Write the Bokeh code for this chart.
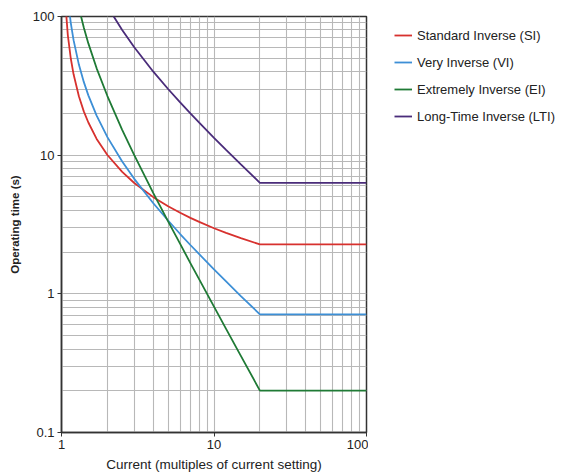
from bokeh.plotting import figure
from bokeh.layouts import row
from bokeh.models import FixedTicker, CustomJSTickFormatter, Legend, LegendItem
from bokeh.embed import file_html
from bokeh.resources import INLINE

# Standard Inverse (SI)
si_current = [1.05, 1.1, 1.15, 1.2, 1.3, 1.4, 1.5, 1.7, 2, 2.5, 3, 4, 5, 6, 7, 8, 10, 12, 15, 20, 100]
si_time = [143.4, 73.4, 50.0, 38.3, 26.6, 20.7, 17.2, 13.1, 10.03, 7.57, 6.30, 4.98, 4.28, 3.84, 3.53, 3.30, 2.97, 2.75, 2.52, 2.27, 2.27]

# Very Inverse (VI)
vi_current = [1.1, 1.15, 1.2, 1.3, 1.4, 1.5, 1.7, 2, 2.5, 3, 4, 5, 6, 7, 8, 10, 12, 15, 20, 100]
vi_time = [135, 90, 67.5, 45, 33.75, 27, 19.3, 13.5, 9.0, 6.75, 4.5, 3.38, 2.7, 2.25, 1.93, 1.5, 1.23, 0.964, 0.711, 0.711]

# Extremely Inverse (EI)
ei_current = [1.3, 1.4, 1.5, 1.7, 2, 2.5, 3, 4, 5, 6, 7, 8, 10, 12, 15, 20, 100]
ei_time = [115.9, 83.3, 64.0, 42.3, 26.7, 15.24, 10.0, 5.33, 3.33, 2.29, 1.667, 1.27, 0.808, 0.559, 0.357, 0.2005, 0.2005]

# Long-Time Inverse (LTI)
lti_current = [2, 2.2, 2.5, 3, 4, 5, 6, 7, 8, 10, 12, 15, 20, 100]
lti_time = [120, 100, 80, 60, 40, 30, 24, 20, 17.14, 13.33, 10.91, 8.57, 6.32, 6.32]

series_names = ["Standard Inverse (SI)", "Very Inverse (VI)", "Extremely Inverse (EI)", "Long-Time Inverse (LTI)"]
series_colors = ["#d7312e", "#3d8fd6", "#1f7a35", "#4a2c7a"]

x_ticks = [1, 10, 100]
y_ticks = [0.1, 1, 10, 100]
grid_x = [1, 2, 3, 4, 5, 6, 7, 8, 9, 10, 20, 30, 40, 50, 60, 70, 80, 90, 100]
grid_y = [0.1, 0.2, 0.3, 0.4, 0.5, 0.6, 0.7, 0.8, 0.9, 1, 2, 3, 4, 5, 6, 7, 8, 9, 10,
          20, 30, 40, 50, 60, 70, 80, 90, 100]

p = figure(width=368, height=475, x_axis_type="log", y_axis_type="log",
           x_range=(1, 100), y_range=(0.1, 100),
           output_backend="svg", toolbar_location=None,
           min_border_left=61, min_border_right=2, min_border_top=16, min_border_bottom=43)

p.outline_line_color = "#333333"
p.outline_line_width = 1.5
p.background_fill_color = "white"
p.border_fill_color = "white"

font = "Liberation Sans"
for ax in (p.xaxis[0], p.yaxis[0]):
    ax.axis_line_color = "#333333"
    ax.axis_line_width = 1.5
    ax.major_tick_line_color = "#333333"
    ax.major_tick_out = 4
    ax.major_tick_in = 0
    ax.minor_tick_line_color = None
    ax.major_label_text_font = font
    ax.major_label_text_font_size = "13px"
    ax.major_label_text_color = "#222222"
    ax.axis_label_text_font = font
    ax.axis_label_text_color = "#222222"
    ax.formatter = CustomJSTickFormatter(code="return tick.toString()")

p.xaxis.ticker = FixedTicker(ticks=x_ticks)
p.yaxis.ticker = FixedTicker(ticks=y_ticks)
p.xaxis.axis_label = "Current (multiples of current setting)"
p.xaxis.axis_label_text_font_size = "13.5px"
p.xaxis.axis_label_text_font_style = "normal"
p.xaxis.axis_label_standoff = 5
p.xaxis.major_label_standoff = 3
p.yaxis.axis_label = "Operating time (s)"
p.yaxis.axis_label_text_font_size = "11.5px"
p.yaxis.axis_label_text_font_style = "bold"
p.yaxis.axis_label_standoff = 9
p.yaxis.major_label_standoff = 3

p.xgrid.ticker = FixedTicker(ticks=grid_x)
p.ygrid.ticker = FixedTicker(ticks=grid_y)
for g in (p.xgrid[0], p.ygrid[0]):
    g.grid_line_color = "#b8b8b8"
    g.grid_line_width = 1.1

data = [(si_current, si_time), (vi_current, vi_time), (ei_current, ei_time), (lti_current, lti_time)]
for (xs, ys), col in zip(data, series_colors):
    p.line(xs, ys, line_color=col, line_width=1.8)

# legend panel (separate figure to the right of the chart); its ranges keep
# the series out of view so only the legend entries show
q = figure(width=195, height=475, x_range=(-2, -1), y_range=(-2, -1),
           output_backend="svg", toolbar_location=None,
           x_axis_location=None, y_axis_location=None, min_border=0)
q.grid.visible = False
q.outline_line_color = None
q.background_fill_color = "white"
items = []
for (xs, ys), name, col in zip(data, series_names, series_colors):
    r = q.line(xs, ys, line_color=col, line_width=1.8)
    items.append(LegendItem(label=name, renderers=[r]))

legend = Legend(items=items, location=(26, 306), border_line_color=None,
                background_fill_alpha=0, padding=8, margin=0,
                glyph_width=18, glyph_height=20, label_height=20, spacing=7,
                label_standoff=5, label_text_font=font, label_text_font_size="13px",
                label_text_color="#222222")
q.add_layout(legend, "center")

layout = row(p, q)
open("out.html", "w").write(file_html(layout, INLINE))
